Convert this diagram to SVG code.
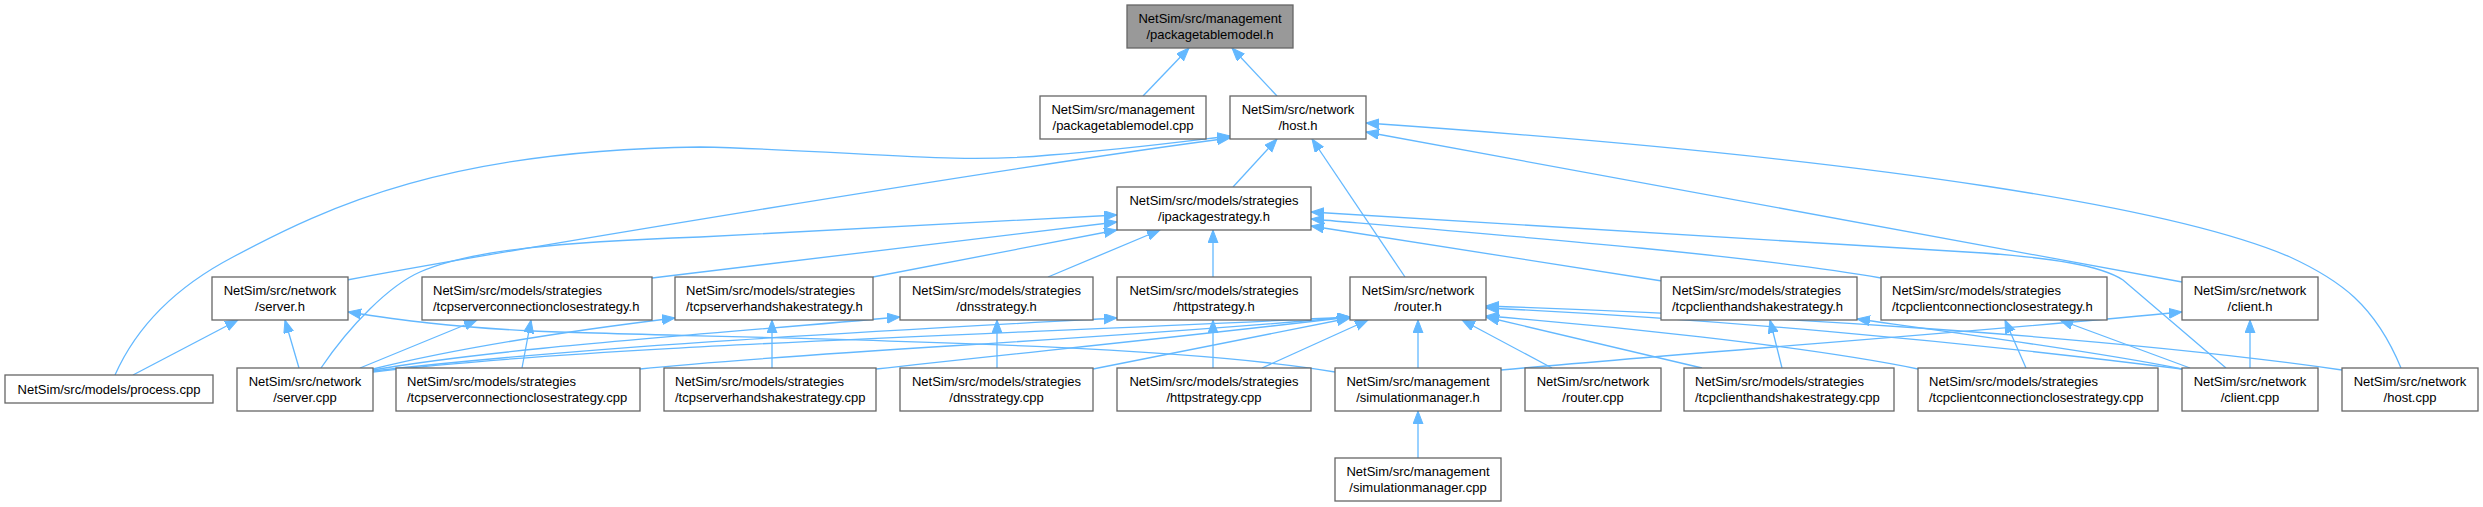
<svg xmlns="http://www.w3.org/2000/svg" width="2483" height="507" viewBox="0 0 2483 507">
<style>
.e path{fill:none;stroke:#63b8ff;stroke-width:1.3}
.n rect{fill:#ffffff;stroke:#666666;stroke-width:1.3}
.n.hl rect{fill:#999999}
.n text{font-family:"Liberation Sans",Arial,sans-serif;font-size:13px;fill:#000000}
.c{text-anchor:middle}
.l{text-anchor:start}
</style>
<defs>
<marker id="a" markerWidth="14" markerHeight="11" refX="13" refY="5" orient="auto" markerUnits="userSpaceOnUse">
<path d="M0,0 L13,5 L0,10 z" fill="#63b8ff" stroke="#63b8ff" stroke-width="1"/>
</marker>
</defs>
<rect width="2483" height="507" fill="#ffffff"/>
<g id="edges" class="e">
<path marker-end="url(#a)" d="M1143,96 L1189,48"/>
<path marker-end="url(#a)" d="M1277,96 L1232,48"/>
<path marker-end="url(#a)" d="M1233,187 L1277,139"/>
<path marker-end="url(#a)" d="M1405,277 L1312,139"/>
<path marker-end="url(#a)" d="M347,280 C480,255 1000,168 1230,138"/>
<path marker-end="url(#a)" d="M115,375 C135,330 170,290 233,257 C330,205 450,150 700,147 C850,150 950,165 1050,155 C1120,150 1180,142 1230,136"/>
<path marker-end="url(#a)" d="M2182,282 L1366,132"/>
<path marker-end="url(#a)" d="M2401,368 C2375,305 2340,280 2290,257 C2180,210 1900,160 1366,123"/>
<path marker-end="url(#a)" d="M321,368 C350,325 390,285 420,272 C470,250 560,242 700,237 L1117,215"/>
<path marker-end="url(#a)" d="M652,278 L1117,222"/>
<path marker-end="url(#a)" d="M873,277 L1117,230"/>
<path marker-end="url(#a)" d="M1048,277 L1160,230"/>
<path marker-end="url(#a)" d="M1213,277 L1213,230"/>
<path marker-end="url(#a)" d="M1662,281 L1311,226"/>
<path marker-end="url(#a)" d="M1881,278 C1750,255 1500,235 1311,219"/>
<path marker-end="url(#a)" d="M2226,368 L2123,280 C2100,265 2050,258 1983,253 L1311,212"/>
<path marker-end="url(#a)" d="M133,375 L238,320"/>
<path marker-end="url(#a)" d="M299,368 L285,320"/>
<path marker-end="url(#a)" d="M1335,372 C1150,340 700,338 533,331 C450,327 400,320 348,312"/>
<path marker-end="url(#a)" d="M360,368 L477,320"/>
<path marker-end="url(#a)" d="M522,368 L531,320"/>
<path marker-end="url(#a)" d="M373,369 C450,350 560,332 675,318"/>
<path marker-end="url(#a)" d="M772,368 L772,320"/>
<path marker-end="url(#a)" d="M373,370 C500,348 700,335 900,317"/>
<path marker-end="url(#a)" d="M997,368 L997,320"/>
<path marker-end="url(#a)" d="M1213,368 L1213,320"/>
<path marker-end="url(#a)" d="M373,371 C600,345 900,330 1117,318"/>
<path marker-end="url(#a)" d="M373,372 C600,345 1000,335 1350,317"/>
<path marker-end="url(#a)" d="M640,369 C800,352 1100,340 1350,317"/>
<path marker-end="url(#a)" d="M876,369 C1000,355 1200,335 1350,317"/>
<path marker-end="url(#a)" d="M1093,369 L1350,318"/>
<path marker-end="url(#a)" d="M1262,368 L1368,320"/>
<path marker-end="url(#a)" d="M1418,368 L1418,320"/>
<path marker-end="url(#a)" d="M1552,368 L1462,320"/>
<path marker-end="url(#a)" d="M1702,368 L1486,317"/>
<path marker-end="url(#a)" d="M1918,369 C1800,345 1600,325 1486,316"/>
<path marker-end="url(#a)" d="M2182,369 C1950,340 1700,318 1486,308"/>
<path marker-end="url(#a)" d="M2342,370 C2100,335 1750,315 1486,306"/>
<path marker-end="url(#a)" d="M1782,368 L1770,320"/>
<path marker-end="url(#a)" d="M2182,369 C2100,352 1950,332 1857,319"/>
<path marker-end="url(#a)" d="M2026,368 L2005,320"/>
<path marker-end="url(#a)" d="M2190,368 L2060,320"/>
<path marker-end="url(#a)" d="M2250,368 L2250,320"/>
<path marker-end="url(#a)" d="M1501,370 C1700,352 2000,330 2182,312"/>
<path marker-end="url(#a)" d="M1418,458 L1418,411"/>
</g>
<g id="pkgh" class="n hl"><rect x="1127" y="5" width="166" height="43"/><text class="c" x="1210" y="23">NetSim/src/management</text><text class="c" x="1210" y="39">/packagetablemodel.h</text></g>
<g id="pkgcpp" class="n"><rect x="1040" y="96" width="166" height="43"/><text class="c" x="1123" y="114">NetSim/src/management</text><text class="c" x="1123" y="130">/packagetablemodel.cpp</text></g>
<g id="hosth" class="n"><rect x="1230" y="96" width="136" height="43"/><text class="c" x="1298" y="114">NetSim/src/network</text><text class="c" x="1298" y="130">/host.h</text></g>
<g id="ipkg" class="n"><rect x="1117" y="187" width="194" height="43"/><text class="c" x="1214" y="205">NetSim/src/models/strategies</text><text class="c" x="1214" y="221">/ipackagestrategy.h</text></g>
<g id="serverh" class="n"><rect x="212" y="277" width="136" height="43"/><text class="c" x="280" y="295">NetSim/src/network</text><text class="c" x="280" y="311">/server.h</text></g>
<g id="tcpscsh" class="n"><rect x="422" y="277" width="230" height="43"/><text class="l" x="433" y="295">NetSim/src/models/strategies</text><text class="l" x="433" y="311">/tcpserverconnectionclosestrategy.h</text></g>
<g id="tcpshsh" class="n"><rect x="675" y="277" width="198" height="43"/><text class="l" x="686" y="295">NetSim/src/models/strategies</text><text class="l" x="686" y="311">/tcpserverhandshakestrategy.h</text></g>
<g id="dnsh" class="n"><rect x="900" y="277" width="193" height="43"/><text class="c" x="996.5" y="295">NetSim/src/models/strategies</text><text class="c" x="996.5" y="311">/dnsstrategy.h</text></g>
<g id="httph" class="n"><rect x="1117" y="277" width="194" height="43"/><text class="c" x="1214" y="295">NetSim/src/models/strategies</text><text class="c" x="1214" y="311">/httpstrategy.h</text></g>
<g id="routerh" class="n"><rect x="1350" y="277" width="136" height="43"/><text class="c" x="1418" y="295">NetSim/src/network</text><text class="c" x="1418" y="311">/router.h</text></g>
<g id="tcpchsh" class="n"><rect x="1661" y="277" width="196" height="43"/><text class="l" x="1672" y="295">NetSim/src/models/strategies</text><text class="l" x="1672" y="311">/tcpclienthandshakestrategy.h</text></g>
<g id="tcpccsh" class="n"><rect x="1881" y="277" width="226" height="43"/><text class="l" x="1892" y="295">NetSim/src/models/strategies</text><text class="l" x="1892" y="311">/tcpclientconnectionclosestrategy.h</text></g>
<g id="clienth" class="n"><rect x="2182" y="277" width="136" height="43"/><text class="c" x="2250" y="295">NetSim/src/network</text><text class="c" x="2250" y="311">/client.h</text></g>
<g id="process" class="n"><rect x="5" y="375" width="208" height="28"/><text class="c" x="109" y="394">NetSim/src/models/process.cpp</text></g>
<g id="servercpp" class="n"><rect x="237" y="368" width="136" height="43"/><text class="c" x="305" y="386">NetSim/src/network</text><text class="c" x="305" y="402">/server.cpp</text></g>
<g id="tcpscscpp" class="n"><rect x="396" y="368" width="244" height="43"/><text class="l" x="407" y="386">NetSim/src/models/strategies</text><text class="l" x="407" y="402">/tcpserverconnectionclosestrategy.cpp</text></g>
<g id="tcpshscpp" class="n"><rect x="664" y="368" width="212" height="43"/><text class="l" x="675" y="386">NetSim/src/models/strategies</text><text class="l" x="675" y="402">/tcpserverhandshakestrategy.cpp</text></g>
<g id="dnscpp" class="n"><rect x="900" y="368" width="193" height="43"/><text class="c" x="996.5" y="386">NetSim/src/models/strategies</text><text class="c" x="996.5" y="402">/dnsstrategy.cpp</text></g>
<g id="httpcpp" class="n"><rect x="1117" y="368" width="194" height="43"/><text class="c" x="1214" y="386">NetSim/src/models/strategies</text><text class="c" x="1214" y="402">/httpstrategy.cpp</text></g>
<g id="simh" class="n"><rect x="1335" y="368" width="166" height="43"/><text class="c" x="1418" y="386">NetSim/src/management</text><text class="c" x="1418" y="402">/simulationmanager.h</text></g>
<g id="routercpp" class="n"><rect x="1525" y="368" width="136" height="43"/><text class="c" x="1593" y="386">NetSim/src/network</text><text class="c" x="1593" y="402">/router.cpp</text></g>
<g id="tcpchscpp" class="n"><rect x="1684" y="368" width="210" height="43"/><text class="l" x="1695" y="386">NetSim/src/models/strategies</text><text class="l" x="1695" y="402">/tcpclienthandshakestrategy.cpp</text></g>
<g id="tcpccscpp" class="n"><rect x="1918" y="368" width="240" height="43"/><text class="l" x="1929" y="386">NetSim/src/models/strategies</text><text class="l" x="1929" y="402">/tcpclientconnectionclosestrategy.cpp</text></g>
<g id="clientcpp" class="n"><rect x="2182" y="368" width="136" height="43"/><text class="c" x="2250" y="386">NetSim/src/network</text><text class="c" x="2250" y="402">/client.cpp</text></g>
<g id="hostcpp" class="n"><rect x="2342" y="368" width="136" height="43"/><text class="c" x="2410" y="386">NetSim/src/network</text><text class="c" x="2410" y="402">/host.cpp</text></g>
<g id="simcpp" class="n"><rect x="1335" y="458" width="166" height="43"/><text class="c" x="1418" y="476">NetSim/src/management</text><text class="c" x="1418" y="492">/simulationmanager.cpp</text></g>
</svg>
